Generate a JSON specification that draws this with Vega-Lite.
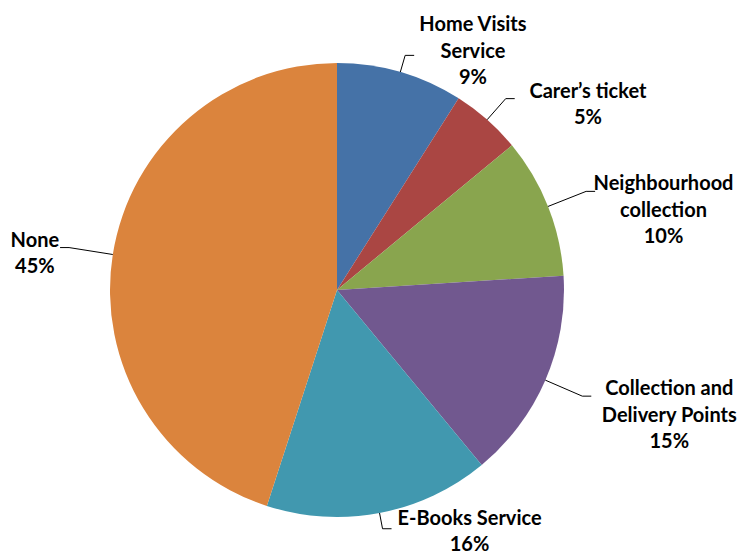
{
  "$schema": "https://vega.github.io/schema/vega-lite/v6.json",
  "width": 737,
  "height": 554,
  "autosize": {"type": "none"},
  "padding": 0,
  "background": "white",
  "config": {"view": {"stroke": null}},
  "data": {
    "values": [
      {"label": "Home Visits\nService", "value": 9},
      {"label": "Carer\u2019s ticket", "value": 5},
      {"label": "Neighbourhood\ncollection", "value": 10},
      {"label": "Collection and\nDelivery Points", "value": 15},
      {"label": "E-Books Service", "value": 16},
      {"label": "None", "value": 45}
    ]
  },
  "transform": [
    {"window": [{"op": "sum", "field": "value", "as": "cum"}], "frame": [null, 0]},
    {"calculate": "datum.cum - datum.value", "as": "start"},
    {"calculate": "(datum.start + datum.value / 2) * 2 * PI / 100", "as": "m"},
    {"calculate": "227 * sin(datum.m)", "as": "ex"},
    {"calculate": "227 * cos(datum.m)", "as": "ey"},
    {"calculate": "272 - 30 * pow(cos(datum.m), 2)", "as": "re"},
    {"calculate": "datum.re * sin(datum.m)", "as": "kx"},
    {"calculate": "datum.re * cos(datum.m)", "as": "ky"},
    {"calculate": "sin(datum.m) >= 0 ? 1 : -1", "as": "side"},
    {"calculate": "datum.kx + 9 * datum.side", "as": "hx"},
    {"calculate": "split(datum.label, '\\n')", "as": "lines"},
    {"calculate": "max(length(datum.lines[0]), length(datum.lines) > 1 ? length(datum.lines[1]) : 0)", "as": "nc"},
    {"calculate": "datum.hx + datum.side * (9.6 * datum.nc / 2 + 6)", "as": "tx"},
    {"calculate": "cos(datum.m) > 0.9 ? datum.ky + 4 + length(datum.lines) * 13 : cos(datum.m) < -0.9 ? datum.ky + 10 : datum.ky + 7", "as": "ty"},
    {"calculate": "datum.label + '\\n' + datum.value + '%'", "as": "txt"}
  ],
  "layer": [
    {
      "mark": {"type": "arc", "radius": 227},
      "encoding": {
        "theta": {"field": "start", "type": "quantitative", "stack": null, "scale": {"domain": [0, 100]}},
        "theta2": {"field": "cum"},
        "color": {
          "field": "label",
          "type": "nominal",
          "sort": null,
          "legend": null,
          "scale": {
            "domain": ["Home Visits\nService", "Carer\u2019s ticket", "Neighbourhood\ncollection", "Collection and\nDelivery Points", "E-Books Service", "None"],
            "range": ["#4572A7", "#AA4643", "#89A54E", "#71588F", "#4198AF", "#DB843D"]
          }
        },
        "x": {"datum": 0, "type": "quantitative", "scale": {"domain": [-337, 400], "nice": false, "zero": false}, "axis": null},
        "y": {"datum": 0, "type": "quantitative", "scale": {"domain": [-264, 290], "nice": false, "zero": false}, "axis": null}
      }
    },
    {
      "mark": {"type": "rule", "color": "black", "strokeWidth": 1},
      "encoding": {
        "x": {"field": "ex", "type": "quantitative", "axis": null},
        "y": {"field": "ey", "type": "quantitative", "axis": null},
        "x2": {"field": "kx"},
        "y2": {"field": "ky"}
      }
    },
    {
      "mark": {"type": "rule", "color": "black", "strokeWidth": 1},
      "encoding": {
        "x": {"field": "kx", "type": "quantitative", "axis": null},
        "y": {"field": "ky", "type": "quantitative", "axis": null},
        "x2": {"field": "hx"}
      }
    },
    {
      "mark": {"type": "text", "align": "center", "baseline": "middle", "lineBreak": "\n", "font": "Lato", "fontSize": 20, "fontWeight": "bold", "lineHeight": 26.5, "color": "black"},
      "encoding": {
        "x": {"field": "tx", "type": "quantitative", "axis": null},
        "y": {"field": "ty", "type": "quantitative", "axis": null},
        "text": {"field": "txt"}
      }
    }
  ]
}
